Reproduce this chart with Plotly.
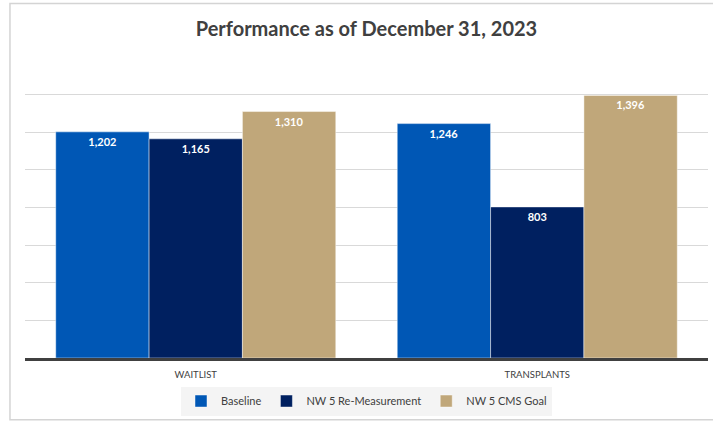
"""Grouped bar chart: performance as of December 31, 2023."""

import plotly.graph_objects as go

CATEGORIES = ["WAITLIST", "TRANSPLANTS"]
SERIES_NAMES = ["Baseline", "NW 5 Re-Measurement", "NW 5 CMS Goal"]
BASELINE = [1202, 1246]
REMEASUREMENT = [1165, 803]
CMS_GOAL = [1310, 1396]

COLORS = ["#0057B5", "#002060", "#C0A77A"]
FONT = "Lato"

fig = go.Figure()
for name, values, color in zip(SERIES_NAMES, [BASELINE, REMEASUREMENT, CMS_GOAL], COLORS):
    fig.add_trace(
        go.Bar(
            x=CATEGORIES,
            y=values,
            name=name,
            marker=dict(color=color, line=dict(color="rgba(255,255,255,0.45)", width=1)),
            text=[f"{v:,}" for v in values],
            textposition="inside",
            insidetextanchor="end",
            textfont=dict(family=FONT, size=11, color="white", weight="bold"),
            cliponaxis=False,
        )
    )

# outer frame around the whole chart
fig.add_shape(
    type="rect", xref="paper", yref="paper",
    x0=-0.022, x1=1.02, y0=-0.205, y1=1.178,
    line=dict(color="#d4d4d4", width=1.5), fillcolor="rgba(0,0,0,0)", layer="below",
)

fig.update_layout(
    width=713,
    height=421,
    margin=dict(l=25, r=5, t=57, b=63),
    paper_bgcolor="white",
    plot_bgcolor="white",
    font=dict(family=FONT, color="#404040"),
    title=dict(
        text="<b>Performance as of December 31, 2023</b>",
        x=0.514, xanchor="center", y=0.931, yanchor="middle",
        font=dict(family=FONT, size=20, color="#404040"),
    ),
    barmode="group",
    bargap=0.18,
    bargroupgap=0,
    showlegend=True,
    legend=dict(
        orientation="h",
        x=0.5, xanchor="center", y=-0.143, yanchor="middle",
        bgcolor="#f4f4f4",
        font=dict(family=FONT, size=11, color="#404040"),
        itemwidth=30,
        traceorder="normal",
    ),
    uniformtext=dict(mode="show", minsize=11),
)

fig.update_xaxes(
    showline=True, linecolor="#404040", linewidth=3,
    ticks="", ticklabelstandoff=6,
    tickfont=dict(family=FONT, size=9.5, color="#404040"),
)
fig.update_yaxes(
    range=[0, 1600], dtick=200,
    showgrid=True, gridcolor="#d9d9d9", gridwidth=1,
    showticklabels=False, zeroline=False, ticks="",
)

# drop the default page margin so the figure sits at the window corner
fig.write_html(
    "out.html",
    config={"displayModeBar": False},
    post_script="document.body.style.margin='0';",
)
